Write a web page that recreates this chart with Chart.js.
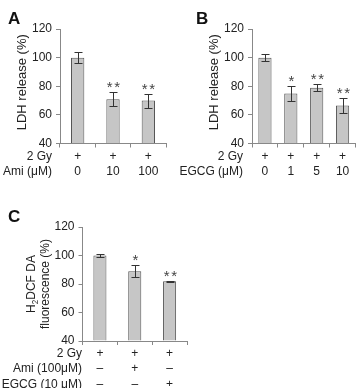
<!DOCTYPE html>
<html>
<head>
<meta charset="utf-8">
<script src="https://cdn.jsdelivr.net/npm/chart.js@4.4.0/dist/chart.umd.min.js"></script>
<style>
  html, body { margin: 0; padding: 0; background: #fff; }
  #wrap { position: relative; width: 356px; height: 388px; overflow: hidden; }
  #wrap canvas { position: absolute; left: 0; top: 0; }
</style>
</head>
<body>
<div id="wrap">
  <canvas id="chartA" width="356" height="388"></canvas>
  <canvas id="chartB" width="356" height="388"></canvas>
  <canvas id="chartC" width="356" height="388"></canvas>
</div>
<script>
// data
const yTicks = [40, 60, 80, 100, 120];

const gyA = ['+', '+', '+'];
const amiA = ['0', '10', '100'];
const valsA = [100, 71, 70];
const errA = [4, 4.8, 4.9];
const starsA = ['', '**', '**'];

const gyB = ['+', '+', '+', '+'];
const egcgB = ['0', '1', '5', '10'];
const valsB = [100, 75, 79, 66.5];
const errB = [2.5, 5.5, 2.5, 5.5];
const starsB = ['', '*', '**', '**'];

const gyC = ['+', '+', '+'];
const amiC = ['\u2013', '+', '\u2013'];
const egcgC = ['\u2013', '\u2013', '+'];
const valsC = [100, 89, 82];
const errC = [1.3, 4, 0.3];
const starsC = ['', '*', '**'];

const FONT = '"Liberation Sans", Arial, sans-serif';
Chart.defaults.font.family = FONT;
Chart.defaults.color = '#222';

function rotLine(ctx, segs, cx, cy, size){
  ctx.save();
  ctx.translate(cx, cy);
  ctx.rotate(-Math.PI / 2);
  ctx.textBaseline = 'middle';
  ctx.textAlign = 'left';
  let total = 0;
  const ws = segs.map(s => {
    ctx.font = (s.sub ? size * 0.68 : size) + 'px ' + FONT;
    const w = ctx.measureText(s.t).width;
    total += w;
    return w;
  });
  let x = -total / 2;
  segs.forEach((s, i) => {
    ctx.font = (s.sub ? size * 0.68 : size) + 'px ' + FONT;
    ctx.fillText(s.t, x, s.sub ? size * 0.32 : 0);
    x += ws[i];
  });
  ctx.restore();
}

const extras = {
  id: 'extras',
  afterDatasetsDraw(chart, args, o){
    const ctx = chart.ctx, ys = chart.scales.y;
    const meta = chart.getDatasetMeta(0);
    const vals = chart.data.datasets[0].data;
    ctx.save();
    ctx.strokeStyle = '#333';
    ctx.lineWidth = 1;
    ctx.fillStyle = '#444';
    meta.data.forEach((bar, i) => {
      const cx = Math.round(bar.x) + 0.5;
      const top = Math.round(ys.getPixelForValue(vals[i] + o.err[i])) + 0.5;
      const bot = Math.round(ys.getPixelForValue(vals[i] - o.err[i])) + 0.5;
      ctx.beginPath();
      ctx.moveTo(cx, top); ctx.lineTo(cx, bot);
      ctx.moveTo(cx - 4, top); ctx.lineTo(cx + 4, top);
      ctx.moveTo(cx - 4, bot); ctx.lineTo(cx + 4, bot);
      ctx.stroke();
      if(o.stars[i]){
        // stars drawn one by one so they sit a little apart
        ctx.font = '15px ' + FONT;
        ctx.textAlign = 'center';
        ctx.textBaseline = 'alphabetic';
        const n = o.stars[i].length, gap = 7.5;
        for(let k = 0; k < n; k++){
          ctx.fillText('*', cx + (k - (n - 1) / 2) * gap, top - 0.5);
        }
      }
    });
    ctx.restore();
  },
  afterDraw(chart, args, o){
    const ctx = chart.ctx, xs = chart.scales.x, area = chart.chartArea;
    ctx.save();
    ctx.fillStyle = '#222';
    // row labels left of the category ticks
    ctx.font = '12px ' + FONT;
    ctx.textAlign = 'right';
    ctx.textBaseline = 'middle';
    o.rows.forEach((r, i) => {
      ctx.fillText(r, o.rowX, xs.top + 4 + o.tickPad + o.rowH * (i + 0.5));
    });
    // y title
    const cy = (area.top + area.bottom) / 2 + o.titleDy;
    o.yTitle.forEach((segs, i) => rotLine(ctx, segs, o.titleX[i], cy, o.titleSize));
    // panel letter
    ctx.font = 'bold 17px ' + FONT;
    ctx.textAlign = 'left';
    ctx.textBaseline = 'alphabetic';
    ctx.fillStyle = '#111';
    ctx.fillText(o.letter, o.letterX, o.letterY);
    ctx.restore();
  }
};

function makeChart(id, p){
  const el = document.getElementById(id);
  const yW = 50, xH = 45;
  return new Chart(el.getContext('2d'), {
    type: 'bar',
    data: {
      labels: p.labels,
      datasets: [{
        data: p.vals,
        base: 40,
        backgroundColor: '#c6c6c6',
        borderColor: '#555',
        borderWidth: 1,
        barPercentage: p.barPct,
        categoryPercentage: 1
      }]
    },
    options: {
      responsive: false,
      animation: false,
      layout: { padding: { left: p.L - yW, right: 356 - p.R, top: p.T, bottom: 388 - p.B - xH } },
      plugins: {
        legend: { display: false },
        tooltip: { enabled: false },
        extras: p.extras
      },
      scales: {
        x: {
          afterFit: s => { s.height = xH; },
          border: { color: '#888' },
          grid: { offset: true, drawOnChartArea: false, tickLength: 4, color: '#888' },
          ticks: { autoSkip: false, maxRotation: 0, padding: p.extras.tickPad, color: '#222',
                   font: { size: 12, lineHeight: p.extras.rowH / 12 } }
        },
        y: {
          min: 40, max: 120,
          afterFit: s => { s.width = yW; },
          afterBuildTicks: s => { s.ticks = yTicks.map(v => ({ value: v })); },
          border: { color: '#888' },
          grid: { drawOnChartArea: false, tickLength: 4, color: '#888' },
          ticks: { padding: 4, color: '#222', font: { size: 12 } }
        }
      }
    },
    plugins: [extras]
  });
}

makeChart('chartA', {
  labels: gyA.map((g, i) => [g, amiA[i]]),
  vals: valsA, barPct: 0.377,
  L: 60, R: 166, T: 29, B: 143.5,
  extras: {
    err: errA, stars: starsA,
    rows: ['2 Gy', 'Ami (\u03bcM)'], rowX: 52, rowH: 15.6, tickPad: 1,
    yTitle: [[{ t: 'LDH release (%)' }]], titleX: [22], titleDy: -4, titleSize: 13,
    letter: 'A', letterX: 8, letterY: 24
  }
});

makeChart('chartB', {
  labels: gyB.map((g, i) => [g, egcgB[i]]),
  vals: valsB, barPct: 0.51,
  L: 252, R: 355.5, T: 29, B: 143.5,
  extras: {
    err: errB, stars: starsB,
    rows: ['2 Gy', 'EGCG (\u03bcM)'], rowX: 243, rowH: 15.6, tickPad: 1,
    yTitle: [[{ t: 'LDH release (%)' }]], titleX: [214], titleDy: -4, titleSize: 13,
    letter: 'B', letterX: 196, letterY: 24
  }
});

makeChart('chartC', {
  labels: gyC.map((g, i) => [g, amiC[i], egcgC[i]]),
  vals: valsC, barPct: 0.375,
  L: 82.5, R: 187, T: 227, B: 341,
  extras: {
    err: errC, stars: starsC,
    rows: ['2 Gy', 'Ami (100\u03bcM)', 'EGCG (10 \u03bcM)'], rowX: 82, rowH: 15.5, tickPad: 0.5,
    yTitle: [[{ t: 'H' }, { t: '2', sub: true }, { t: 'DCF DA' }], [{ t: 'fluorescence (%)' }]],
    titleX: [32, 46], titleDy: 0, titleSize: 12,
    letter: 'C', letterX: 8, letterY: 222
  }
});
</script>
</body>
</html>
